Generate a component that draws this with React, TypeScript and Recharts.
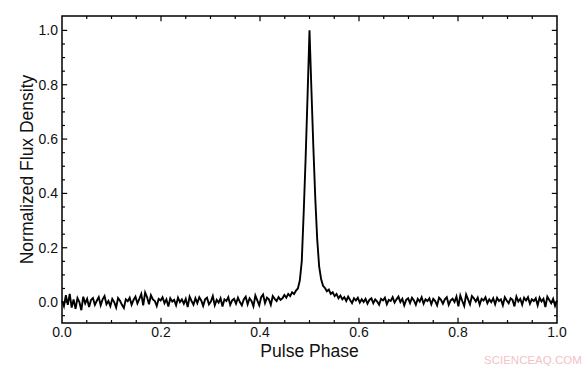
import { LineChart, Line, XAxis, YAxis, ReferenceLine, ReferenceArea } from "recharts";

// normalized flux, 257 phase bins from 0 to 1 (bin i -> phase i/256)
const flux = [
  0.005, -0.015, 0.025, -0.01, 0.03, -0.02, 0.01, -0.025, 0.015, 0.0,
  -0.03, 0.02, -0.005, 0.012, -0.018, 0.008, 0.015, -0.01, 0.005, 0.018,
  -0.012, 0.01, 0.022, -0.008, 0.004, -0.015, 0.012, 0.0, -0.02, 0.015,
  0.005, -0.01,
  -0.022, 0.01, 0.003, 0.016, -0.01, 0.008, 0.02, -0.005, 0.012, 0.03,
  -0.012, 0.035, 0.018, -0.008, 0.025, 0.01, 0.004, -0.014, 0.012, 0.006,
  0.018, -0.004, 0.01, -0.016, 0.014, 0.002, 0.008, -0.012, 0.016, 0.0,
  0.01, -0.006,
  0.012, -0.018, 0.02, 0.004, -0.01, 0.014, -0.004, 0.018, 0.006, -0.014,
  0.01, 0.016, -0.008, 0.002, 0.022, -0.012, 0.008, -0.002, 0.014, -0.016,
  0.01, 0.004, 0.018, -0.01, 0.006, 0.012, -0.006, 0.016, 0.0, -0.012,
  0.01, 0.02,
  -0.008, 0.014, 0.004, -0.016, 0.024, 0.006, -0.012, 0.018, 0.028, -0.004,
  0.016, 0.01, -0.01, 0.022, 0.012, 0.004, 0.018, 0.008,
  0.014, 0.026, 0.016, 0.03, 0.022, 0.036, 0.03, 0.042, 0.05,
  0.08, 0.15, 0.33, 0.53, 0.76, 1.0, 0.78, 0.57, 0.38, 0.23, 0.13, 0.085, 0.06,
  0.052, 0.04, 0.046, 0.03, 0.036, 0.022, 0.03, 0.014, 0.024, 0.01,
  0.018, 0.004, 0.02, 0.008, -0.004, 0.014, 0.006, 0.016, -0.002, 0.01,
  0.0, 0.012, -0.006, 0.008,
  0.014, -0.004, 0.01, 0.002, -0.01, 0.012, 0.006, 0.016, -0.008, 0.008,
  0.004, 0.018, -0.002, 0.01, 0.02, 0.0, 0.012, -0.012, 0.008, 0.014,
  -0.004, 0.016, 0.006, -0.01, 0.012, 0.002, 0.018, -0.006, 0.01, 0.004,
  0.014, -0.008,
  0.012, 0.004, -0.012, 0.016, 0.008, -0.006, 0.01, 0.018, -0.01, 0.006,
  0.012, 0.0, 0.02, -0.016, 0.024, 0.004, -0.014, 0.028, 0.01, -0.008,
  0.022, 0.014, 0.002, 0.016, -0.01, 0.012, 0.006, 0.018, -0.004, 0.01,
  0.0, 0.014,
  -0.008, 0.016, 0.004, 0.01, -0.012, 0.018, 0.006, -0.004, 0.014, 0.008,
  -0.016, 0.02, 0.002, 0.012, -0.01, 0.016, 0.006, 0.018, -0.006, 0.01,
  0.004, 0.014, -0.012, 0.016, 0.002, 0.012, -0.018, 0.02, 0.008, -0.004,
  0.012, -0.014, 0.006,
];

const xTicks = [0, 0.2, 0.4, 0.6, 0.8, 1.0];
const yTicks = [0, 0.2, 0.4, 0.6, 0.8, 1.0];
const xMinor = [0.05, 0.1, 0.15, 0.25, 0.3, 0.35, 0.45, 0.5, 0.55, 0.65, 0.7, 0.75, 0.85, 0.9, 0.95];
const yMinor = [-0.05, 0.05, 0.1, 0.15, 0.25, 0.3, 0.35, 0.45, 0.5, 0.55, 0.65, 0.7, 0.75, 0.85, 0.9, 0.95];

const data = flux.map((v, i) => ({ phase: i / (flux.length - 1), flux: v }));

const Y_MIN = -0.077;
const Y_MAX = 1.053;
const FONT = "'Liberation Sans', Arial, sans-serif";

// tick lengths in data units (plot is ~495px wide, ~307px tall)
const majX = 0.0105;
const minX = 0.006;
const majY = 0.019;
const minY = 0.011;

function tickSeg(key: string, pts: { x: number; y: number }[]) {
  return (
    <ReferenceLine
      key={key}
      segment={pts}
      stroke="#000"
      strokeWidth={1.2}
      ifOverflow="visible"
    />
  );
}

export default function App() {
  const ticks: JSX.Element[] = [];
  xTicks.slice(1, -1).forEach((x) => {
    ticks.push(tickSeg(`xb${x}`, [{ x, y: Y_MIN }, { x, y: Y_MIN + majY }]));
    ticks.push(tickSeg(`xt${x}`, [{ x, y: Y_MAX }, { x, y: Y_MAX - majY }]));
  });
  xMinor.forEach((x) => {
    ticks.push(tickSeg(`mb${x}`, [{ x, y: Y_MIN }, { x, y: Y_MIN + minY }]));
    ticks.push(tickSeg(`mt${x}`, [{ x, y: Y_MAX }, { x, y: Y_MAX - minY }]));
  });
  yTicks.forEach((y) => {
    ticks.push(tickSeg(`yl${y}`, [{ x: 0, y }, { x: majX, y }]));
    ticks.push(tickSeg(`yr${y}`, [{ x: 1, y }, { x: 1 - majX, y }]));
  });
  yMinor.forEach((y) => {
    ticks.push(tickSeg(`nl${y}`, [{ x: 0, y }, { x: minX, y }]));
    ticks.push(tickSeg(`nr${y}`, [{ x: 1, y }, { x: 1 - minX, y }]));
  });

  return (
    <div style={{ position: "fixed", left: 0, top: 0, width: 583, height: 369, background: "#fff" }}>
      <LineChart
        width={583}
        height={369}
        data={data}
        margin={{ top: 16, right: 26, left: 0, bottom: 0 }}
      >
        <XAxis
          dataKey="phase"
          type="number"
          domain={[0, 1]}
          ticks={xTicks}
          tickFormatter={(v: number) => v.toFixed(1)}
          height={46}
          axisLine={false}
          tickLine={false}
          tickSize={0}
          tickMargin={4}
          tick={{ fontSize: 14, fill: "#111", fontFamily: FONT }}
          label={{
            value: "Pulse Phase",
            position: "insideBottom",
            offset: 12,
            style: { fontSize: 17.5, fill: "#111", fontFamily: FONT },
          }}
        />
        <YAxis
          type="number"
          domain={[Y_MIN, Y_MAX]}
          ticks={yTicks}
          tickFormatter={(v: number) => v.toFixed(1)}
          width={62}
          axisLine={false}
          tickLine={false}
          tickSize={0}
          tickMargin={4}
          allowDataOverflow
          tick={{ fontSize: 14, fill: "#111", fontFamily: FONT }}
          label={{
            value: "Normalized Flux Density",
            angle: -90,
            position: "insideLeft",
            offset: 27,
            style: { fontSize: 17.5, fill: "#111", fontFamily: FONT, textAnchor: "middle" },
          }}
        />
        <ReferenceArea
          x1={0}
          x2={1}
          y1={Y_MIN}
          y2={Y_MAX}
          fill="none"
          stroke="#000"
          strokeWidth={1.5}
          ifOverflow="visible"
        />
        {ticks}
        <Line
          dataKey="flux"
          type="linear"
          stroke="#000"
          strokeWidth={1.9}
          dot={false}
          isAnimationActive={false}
        />
      </LineChart>
      <div
        style={{
          position: "absolute",
          left: 484,
          top: 353,
          fontFamily: "'Liberation Sans Narrow', 'Liberation Sans', sans-serif",
          fontSize: 11.5,
          color: "#f2c2c8",
          lineHeight: "14px",
        }}
      >
        SCIENCEAQ.COM
      </div>
    </div>
  );
}
